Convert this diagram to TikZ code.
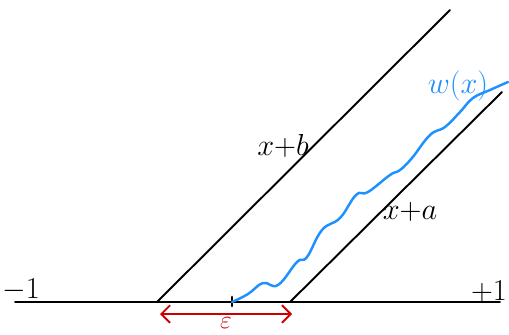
\documentclass[tikz,border=0pt]{standalone}
\usetikzlibrary{arrows.meta}
\begin{document}
\begin{tikzpicture}[x=0.02cm,y=-0.02cm,line cap=round,
	blk/.style={draw=black,line width=1.1pt},
	lbl/.style={inner sep=1pt,font=\LARGE}]
	
	% ---- Adjustable colors ----
	\definecolor{waveColor}{RGB}{30,144,255}
	\definecolor{gapColor}{RGB}{204,0,0}
	
	\useasboundingbox (0,0) rectangle (509,334);
	
	% ---- Axis and the two slanted lines ----
	\coordinate (left) at (15,302);
	\coordinate (right) at (500,302);
	\coordinate (footB) at (157,302);
	\coordinate (topB) at (450,10);
	\coordinate (footA) at (290,302);
	\coordinate (topA) at (502,92);
	\coordinate (start) at (232,302);
	
	\draw[blk] (left) -- (right);
	\draw[blk] (footB) -- (topB);
	\draw[blk] (footA) -- (topA);
	\draw[blk,line width=1.6pt] (232,297) -- (232,306);
	
	% ---- Wavy curve ----
	\draw[waveColor,line width=1.4pt] plot[smooth,tension=0.7] coordinates {
		(start) (248,294) (263,283) (278,285) (297,262) (307,257)
		(322,230) (340,218) (356,195) (368,192)
		(390,175) (400,170) (412,158) (430,135) (445,127)
		(460,112) (473,98) (490,90) (508,82)};
	
	% ---- Gap arrow ----
	\coordinate (gapL) at (160,314);
	\coordinate (gapR) at (292,314);
	\draw[gapColor,line width=1.1pt,{Straight Barb[length=5pt,width=10pt]}-{Straight Barb[length=5pt,width=10pt]}] (gapL) -- (gapR);
	\node[lbl,font=\Large,text=gapColor,inner sep=0pt,anchor=north] (eps) at (226,317) {$\varepsilon$};
	
	% ---- Labels ----
	\node[lbl] (labB) at (283,146) {$x{+}b$};
	\node[lbl] (labA) at (410,212) {$x{+}a$};
	\node[lbl,text=waveColor] (labW) at (458,86) {$w(x)$};
	\node[lbl] (labL) at (21,290) {$-1$};
	\node[lbl,anchor=east] (labR) at (509,292) {$+1$};
	
\end{tikzpicture}
\end{document}
